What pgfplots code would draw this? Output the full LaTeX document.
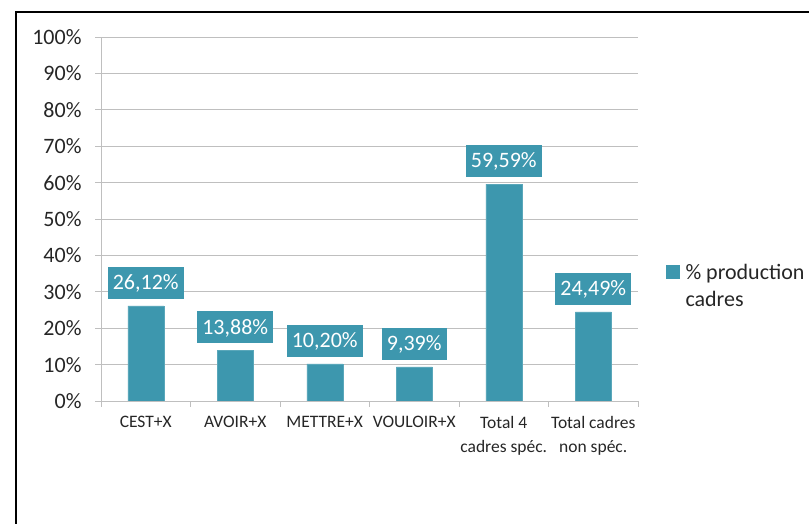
\documentclass[border=0pt]{standalone}
\usepackage{pgfplots}
\pgfplotsset{compat=1.18}
\usepackage{fontspec}
\setmainfont{Carlito}
\definecolor{barteal}{RGB}{61,151,174}
\definecolor{gridgray}{RGB}{191,191,191}
\begin{document}
\begin{tikzpicture}[x=1bp,y=1bp]
\useasboundingbox (0,0) rectangle (809,524);
\draw[line width=2.6bp,black] (16,-5) -- (16,512) -- (815,512);
\begin{axis}[
  at={(101bp,123bp)}, anchor=south west,
  scale only axis, width=537bp, height=364bp,
  ybar, bar width=36bp,
  xmin=-0.5, xmax=5.5, ymin=0, ymax=100,
  axis x line*=bottom, axis y line*=left,
  axis line style={gridgray, line width=0.9bp},
  xtick={0,1,2,3,4,5},
  xticklabels={CEST+X, AVOIR+X, METTRE+X, VOULOIR+X, {Total 4\\cadres spéc.}, {Total cadres\\non spéc.}},
  xticklabel style={align=center, font=\fontsize{17.5bp}{24bp}\selectfont, text=black!85, yshift=-6bp},
  major x tick style={draw=none},
  minor xtick={-0.5,0.5,...,5.5},
  minor x tick style={gridgray, line width=0.9bp},
  minor tick length=6bp,
  ytick={0,10,...,100},
  yticklabels={0\%,10\%,20\%,30\%,40\%,50\%,60\%,70\%,80\%,90\%,100\%},
  yticklabel style={font=\fontsize{22bp}{26bp}\selectfont, text=black!85, xshift=-10bp},
  major y tick style={gridgray, line width=0.9bp},
  major tick length=6bp,
  tick align=outside,
  ymajorgrids, grid style={gridgray, line width=0.9bp},
  /pgf/number format/assume math mode=true,
  nodes near coords={\pgfmathprintnumber[fixed,fixed zerofill,precision=2,use comma,assume math mode=true]{\pgfplotspointmeta}\%},
  every node near coord/.append style={fill=barteal, text=white, font=\fontsize{22bp}{26bp}\selectfont, inner xsep=5bp, inner ysep=9bp, text height=14bp, text depth=0bp, anchor=south, yshift=7bp},
  legend style={at={(1.052,0.316)}, anchor=west, draw=none, fill=none, inner sep=0pt, font=\fontsize{22bp}{27bp}\selectfont, text=black!85, cells={align=left}},
  legend image code/.code={\fill[barteal] (0bp,8bp) rectangle (13bp,21bp); \path (17bp,8bp);},
]
\addplot[fill=barteal, draw=barteal!85!white] coordinates {(0,26.12) (1,13.88) (2,10.20) (3,9.39) (4,59.59) (5,24.49)};
\addlegendentry{\% production\\cadres}
\end{axis}
\end{tikzpicture}
\end{document}
